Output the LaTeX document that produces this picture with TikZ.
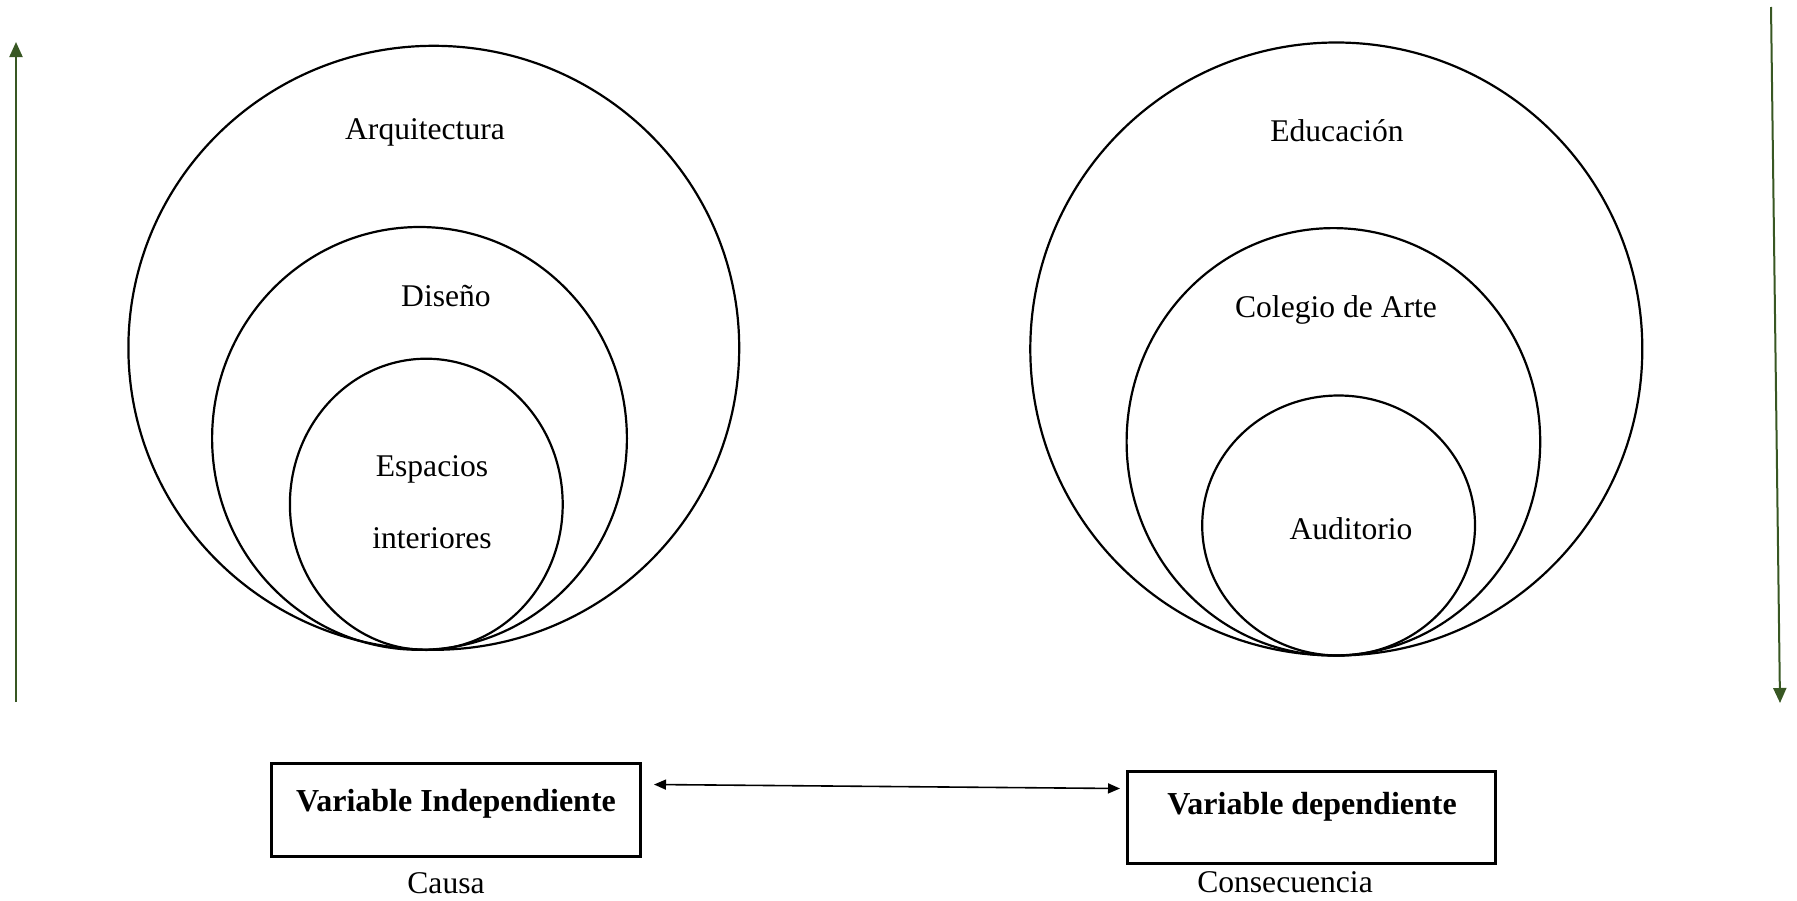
\documentclass[tikz,border=0pt]{standalone}
\usepackage{fontspec}
\setmainfont{Liberation Serif}
\usetikzlibrary{shapes.geometric,arrows.meta}
\definecolor{arrowgreen}{RGB}{56,87,35}
\tikzset{
  ring/.style={ellipse, draw=black, line width=1.1pt, inner sep=0pt},
  lbl/.style={inner sep=0pt, font=\fontsize{15.8}{19}\selectfont},
  varbox/.style={rectangle, draw=black, line width=1.5pt, inner sep=0pt},
  vartext/.style={inner sep=0pt, font=\fontsize{16}{19}\selectfont\bfseries},
  trend/.style={draw=arrowgreen, line width=1pt, -{Triangle[width=6.5pt,length=7.5pt]}},
  link/.style={draw=black, line width=0.8pt, {Triangle[width=5pt,length=6pt]}-{Triangle[width=5pt,length=6pt]}}
}
\begin{document}
\begin{tikzpicture}[x=0.5pt, y=-0.5pt]
  \useasboundingbox (0,0) rectangle (1797,900);

  % independent variable: nested rings
  \node[ring, minimum width=610.8pt*0.5, minimum height=604pt*0.5] (arq) at (433.8,347.8) {};
  \node[ring, minimum width=414.8pt*0.5, minimum height=422.8pt*0.5] (dis) at (419.5,438.4) {};
  \node[ring, minimum width=272.8pt*0.5, minimum height=291.2pt*0.5] (esp) at (426.3,504.3) {};
  \node[lbl] (tarq) at (425,132.6) {Arquitectura};
  \node[lbl] (tdis) at (446,296) {Diseño};
  \node[lbl] (tesp1) at (432,469.4) {Espacios};
  \node[lbl] (tesp2) at (432,538) {interiores};

  % dependent variable: nested rings
  \node[ring, minimum width=612pt*0.5, minimum height=613pt*0.5] (edu) at (1336.3,349) {};
  \node[ring, minimum width=413.6pt*0.5, minimum height=427.4pt*0.5] (col) at (1333.4,441.8) {};
  \node[ring, minimum width=272.8pt*0.5, minimum height=260pt*0.5] (aud) at (1338.6,525.5) {};
  \node[lbl] (tedu) at (1337,131) {Educación};
  \node[lbl] (tcol) at (1336,310.4) {Colegio de Arte};
  \node[lbl] (taud) at (1351,529) {Auditorio};

  % side trend arrows
  \coordinate (gl1) at (16,702);
  \coordinate (gl2) at (16,42);
  \coordinate (gr1) at (1771,7);
  \coordinate (gr2) at (1780,703);
  \draw[trend] (gl1) -- (gl2);
  \draw[trend] (gr1) -- (gr2);

  % variable boxes
  \node[varbox, minimum width=184.5pt, minimum height=46.4pt] (vi) at (456.2,810) {};
  \node[varbox, minimum width=184pt, minimum height=46pt] (vd) at (1311.2,817.3) {};
  \node[vartext] (tvi) at (456,803.6) {Variable Independiente};
  \node[vartext] (tvd) at (1312,806.6) {Variable dependiente};
  \node[lbl] (causa) at (446,883.5) {Causa};
  \node[lbl] (cons) at (1285,882.5) {Consecuencia};

  % link between the two variables
  \coordinate (la) at (654,784.5);
  \coordinate (lb) at (1120,788.5);
  \draw[link] (la) -- (lb);
\end{tikzpicture}
\end{document}
